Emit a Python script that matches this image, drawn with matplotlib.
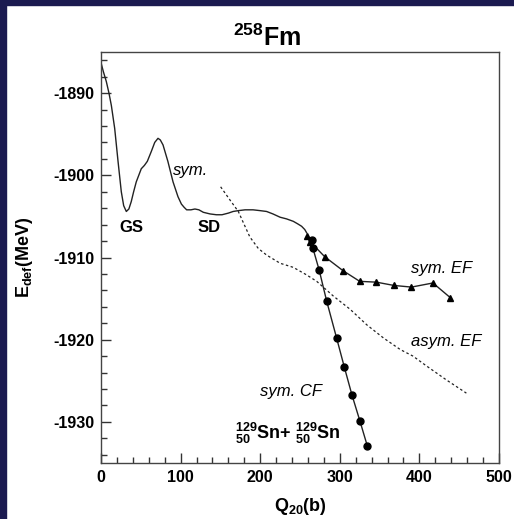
import matplotlib
matplotlib.use("Agg")
import matplotlib.pyplot as plt
from matplotlib.patches import Rectangle
from matplotlib.ticker import MultipleLocator

plt.rcParams['font.family'] = ['Liberation Sans', 'DejaVu Sans']
plt.rcParams['mathtext.default'] = 'regular'
plt.rcParams['axes.unicode_minus'] = False

# symmetric path (solid line), continues into the sym. EF triangles
sym_q = [0, 3, 6.7, 10, 13, 17.2, 21.4, 25.5, 28.5, 31.8, 35, 38, 41, 44.3,
         50.6, 54.5, 58.2, 63.2, 67.5, 71.6, 74.5, 77.9, 84, 90.5, 96.7, 101,
         104.5, 107.6, 113, 118, 123, 128.5, 137, 145, 152, 160, 166, 172.5,
         181, 191, 200, 208, 216, 225, 233, 241.6, 247, 252, 256, 258.4]
sym_e = [-1886.3, -1887.4, -1888.6, -1890.0, -1891.5, -1894.3, -1898.3,
         -1902.0, -1903.7, -1904.4, -1904.1, -1903.2, -1902.0, -1900.8,
         -1899.2, -1898.8, -1898.3, -1897.1, -1896.0, -1895.5, -1895.7,
         -1896.3, -1898.3, -1900.8, -1902.6, -1903.5, -1903.9, -1904.2,
         -1904.2, -1904.1, -1904.2, -1904.5, -1904.7, -1904.8, -1904.8,
         -1904.6, -1904.4, -1904.3, -1904.2, -1904.2, -1904.3, -1904.4,
         -1904.7, -1905.1, -1905.3, -1905.6, -1905.9, -1906.2, -1906.6,
         -1907.0]

# sym. EF (triangles)
ef_q = [258.4, 263, 281, 304, 325, 346, 368, 390, 417, 439]
ef_e = [-1907.4, -1908.1, -1909.9, -1911.6, -1912.9, -1913.0, -1913.4,
        -1913.6, -1913.1, -1914.9]

# sym. CF (circles)
cf_q = [264.6, 266, 274, 283.5, 296, 305.6, 315.2, 325.3, 334.5]
cf_e = [-1907.9, -1908.8, -1911.5, -1915.3, -1919.8, -1923.3, -1926.7,
        -1929.9, -1932.9]

# asym. EF (dotted)
asym_q = [150.3, 162, 172.5, 179, 187, 197.6, 208, 225, 241.6, 258, 271,
          292, 313, 334, 355, 376, 392, 409, 434, 459]
asym_e = [-1901.4, -1903.0, -1904.4, -1905.8, -1907.5, -1908.9, -1909.7,
          -1910.7, -1911.2, -1912.1, -1912.9, -1914.7, -1916.3, -1918.2,
          -1919.8, -1921.2, -1922.0, -1923.2, -1924.9, -1926.5]

fig = plt.figure(figsize=(5.14, 5.19), dpi=100)
fig.patch.set_facecolor('white')
navy = '#1b1a50'
fig.add_artist(Rectangle((0, 1 - 5 / 519), 1, 5 / 519, transform=fig.transFigure,
                         color=navy, zorder=0))
fig.add_artist(Rectangle((0, 0), 6 / 514, 1, transform=fig.transFigure,
                         color=navy, zorder=0))

ax = fig.add_axes([101 / 514, 1 - 463 / 519, 398 / 514, 411 / 519])
line_c = '#222222'
ax.plot(sym_q, sym_e, color=line_c, lw=1.0)
ax.plot(ef_q, ef_e, color=line_c, lw=1.0, marker='^', ms=5, mfc='black', mec='black')
ax.plot(cf_q, cf_e, color=line_c, lw=1.0, marker='o', ms=5, mfc='black', mec='black')
ax.plot(asym_q, asym_e, color=line_c, lw=0.9, ls=(0, (2, 2)))

ax.set_xlim(0, 500)
ax.set_ylim(-1935, -1885)
ax.xaxis.set_major_locator(MultipleLocator(100))
ax.xaxis.set_minor_locator(MultipleLocator(20))
ax.yaxis.set_major_locator(MultipleLocator(10))
ax.yaxis.set_minor_locator(MultipleLocator(2))
ax.tick_params(which='both', direction='in', top=False, right=False,
               color='#333333', width=1)
ax.tick_params(which='major', length=7, labelsize=11.5, pad=5)
ax.tick_params(which='minor', length=4)
for lab in ax.get_xticklabels() + ax.get_yticklabels():
    lab.set_fontweight('bold')
for s in ax.spines.values():
    s.set_color('#444444')
    s.set_linewidth(1)

ax.set_xlabel(r'Q$_{20}$(b)', fontsize=13, fontweight='bold', labelpad=8)
ax.set_ylabel(r'E$_{def}$(MeV)', fontsize=13, fontweight='bold', labelpad=13)

fig.text(267 / 514, 1 - 38 / 519, r'$^{258}$Fm', fontsize=18, fontweight='bold',
         ha='center', va='center')

ax.text(90, -1899.4, 'sym.', style='italic', fontsize=12, va='center')
ax.text(38, -1906.4, 'GS', fontweight='bold', fontsize=12, ha='center', va='center')
ax.text(136, -1906.4, 'SD', fontweight='bold', fontsize=12, ha='center', va='center')
ax.text(390, -1911.3, 'sym. EF', style='italic', fontsize=12, va='center')
ax.text(390, -1920.2, 'asym. EF', style='italic', fontsize=12, va='center')
ax.text(200, -1926.3, 'sym. CF', style='italic', fontsize=12, va='center')
ax.text(168, -1931.4, r'$^{129}_{50}$Sn+ $^{129}_{50}$Sn', fontweight='bold',
        fontsize=13, va='center')

fig.savefig('out.png', dpi=100, facecolor='white')
